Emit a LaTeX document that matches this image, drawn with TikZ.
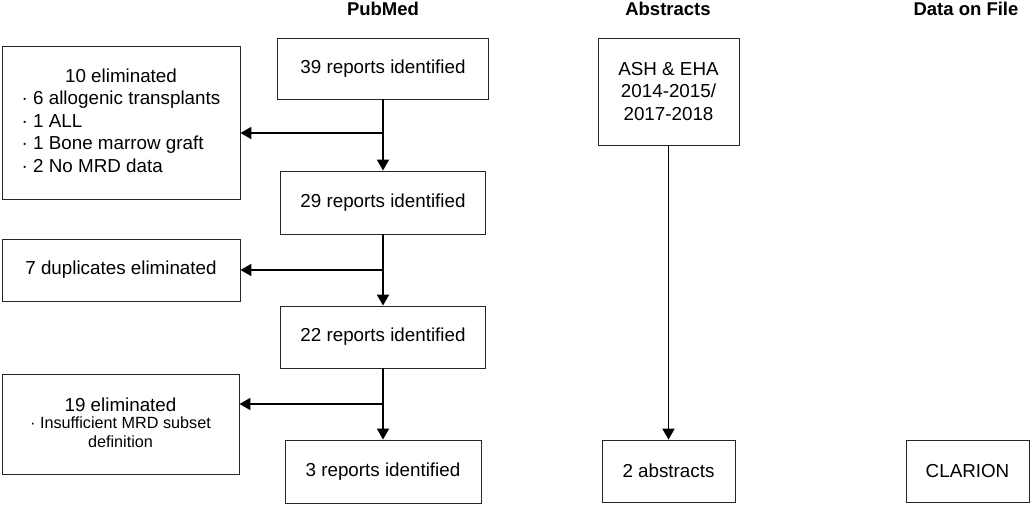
\documentclass[tikz,border=0pt]{standalone}
\usepackage{fontspec}
\setmainfont{Liberation Sans}
\usetikzlibrary{arrows.meta}
\tikzset{
	box/.style={draw=black!85, line width=0.8pt, inner sep=0pt, align=center,
			font=\fontsize{18.8}{22.5}\selectfont},
	head/.style={anchor=base, font=\bfseries\fontsize{18.5}{22}\selectfont},
	flow/.style={line width=1.8pt, -{Triangle[width=12pt,length=11pt]}}
}

\begin{document}
\begin{tikzpicture}[x=1pt, y=-1pt]
		\useasboundingbox (0,0) rectangle (1031,517);

		% Column headings
		\node[head] (pubmed) at (383,15) {PubMed};
		\node[head] (abstracts) at (668,15) {Abstracts};
		\node[head] (datafile) at (966,15) {Data on File};

		% PubMed column
		\node[box, minimum width=211, minimum height=61] (n39) at (383,68.5) {39 reports identified};
		\node[box, minimum width=205, minimum height=63] (n29) at (383,202.5) {29 reports identified};
		\node[box, minimum width=205, minimum height=62] (n22) at (383,337) {22 reports identified};
		\node[box, minimum width=196, minimum height=63] (n3) at (383,471.5) {3 reports identified};

		% Exclusion boxes
		\node[box, minimum width=238, minimum height=153] (elim10) at (121,122.5) {%
			\begin{tabular}{@{}l@{}}
				\multicolumn{1}{@{}c@{}}{10 eliminated}\\
				· 6 allogenic transplants\\
				· 1 ALL\\
				· 1 Bone marrow graft\\
				· 2 No MRD data
			\end{tabular}};
		\node[box, minimum width=238, minimum height=62] (dup7) at (121,270) {7 duplicates eliminated};
		\node[box, minimum width=237, minimum height=100] (elim19) at (120.5,424) {%
			\begin{tabular}{@{}c@{}}
				19 eliminated\\[-3pt]
				{\fontsize{16.2}{19}\selectfont\begin{tabular}{@{}c@{}}· Insufficient MRD subset\\ definition\end{tabular}}
			\end{tabular}};

		% Abstracts and data on file
		\node[box, minimum width=141, minimum height=107] (ash) at (668.5,91.5) {ASH \& EHA\\ 2014-2015/\\ 2017-2018};
		\node[box, minimum width=133, minimum height=62] (abs2) at (668.5,471) {2 abstracts};
		\node[box, minimum width=123, minimum height=62] (clarion) at (967.5,471) {CLARION};

		% Flow down the PubMed column
		\draw[flow] (n39.south) -- (n29.north);
		\draw[flow] (n29.south) -- (n22.north);
		\draw[flow] (n22.south) -- (n3.north);

		% Branches to the exclusions
		\coordinate (b1) at (383,133);
		\coordinate (b2) at (383,270);
		\coordinate (b3) at (383,404);
		\draw[flow] (b1) -- (b1 -| elim10.east);
		\draw[flow] (b2) -- (b2 -| dup7.east);
		\draw[flow] (b3) -- (b3 -| elim19.east);

		% Abstracts flow
		\draw[flow] (ash.south) -- (abs2.north);
	\end{tikzpicture}
\end{document}
